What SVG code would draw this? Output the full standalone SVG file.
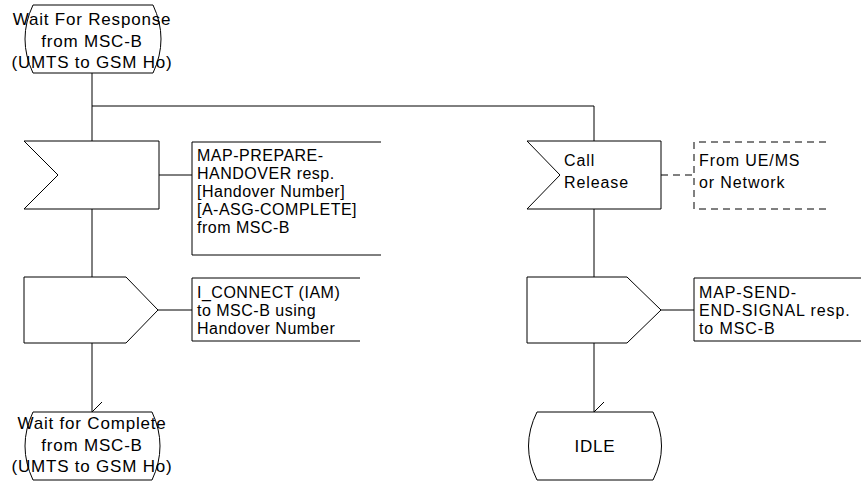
<svg xmlns="http://www.w3.org/2000/svg" width="861" height="483" viewBox="0 0 861 483">
<defs>
<style>
.s{fill:#fff;stroke:#000;stroke-width:1}
.l{fill:none;stroke:#000;stroke-width:1}
.d{fill:none;stroke:#000;stroke-width:1;stroke-dasharray:7,5}
.t{font-family:"Liberation Sans",Arial,sans-serif;font-size:16px;letter-spacing:0.5px;fill:#000}
.r{letter-spacing:0.9px}
.st{font-family:"Liberation Sans",Arial,sans-serif;font-size:17px;letter-spacing:0.8px;fill:#000;text-anchor:middle}
</style>
<marker id="arr" markerWidth="24" markerHeight="14" refX="11" refY="11" orient="auto" markerUnits="userSpaceOnUse" viewBox="0 0 24 14">
<path d="M1,1 L11,11 L21,1" fill="none" stroke="#000" stroke-width="1"/>
</marker>
</defs>
<rect width="861" height="483" fill="#fff"/>
<g id="connectors">
<path class="l" d="M92,73 V141"/>
<path class="l" d="M92,106 H594 V141"/>
<path class="l" d="M159,175 H192"/>
<path class="l" d="M92,209 V277"/>
<path class="l" d="M158,310 H192"/>
<path class="l" d="M92,343 V412" marker-end="url(#arr)"/>
<path class="d" d="M661,175 H694"/>
<path class="l" d="M594,209 V277"/>
<path class="l" d="M661,310 H694"/>
<path class="l" d="M594,343 V412" marker-end="url(#arr)"/>
</g>
<g id="state_wait_response">
<path class="s" d="M33,5 H153 Q169,39 153,73 H33 Q17,39 33,5 Z"/>
<text class="st" x="92" y="25">Wait For Response</text>
<text class="st" x="92" y="47">from MSC-B</text>
<text class="st" x="92" y="68">(UMTS to GSM Ho)</text>
</g>
<g id="input_map_prepare">
<path class="s" d="M24,141 H159 V209 H24 L58,175 Z"/>
</g>
<g id="text_map_prepare">
<path class="l" d="M381,142 H192 V255 H381"/>
<text class="t" x="197" y="161">MAP-PREPARE-</text>
<text class="t" x="197" y="179">HANDOVER resp.</text>
<text class="t" x="197" y="197">[Handover Number]</text>
<text class="t" x="197" y="215">[A-ASG-COMPLETE]</text>
<text class="t" x="197" y="233">from MSC-B</text>
</g>
<g id="output_i_connect">
<path class="s" d="M24,277 H126 L158,310 L126,343 H24 Z"/>
</g>
<g id="text_i_connect">
<path class="l" d="M360,278 H192 V341 H360"/>
<text class="t" x="197" y="298">I_CONNECT (IAM)</text>
<text class="t" x="197" y="316">to MSC-B using</text>
<text class="t" x="197" y="334">Handover Number</text>
</g>
<g id="state_wait_complete">
<path class="s" d="M33,412 H152 Q168,446 152,480 H33 Q17,446 33,412 Z"/>
<text class="st" x="92" y="429">Wait for Complete</text>
<text class="st" x="92" y="451">from MSC-B</text>
<text class="st" x="92" y="472">(UMTS to GSM Ho)</text>
</g>
<g id="input_call_release">
<path class="s" d="M527,141 H661 V209 H527 L560,175 Z"/>
<text class="t r" x="564" y="166">Call</text>
<text class="t r" x="564" y="188">Release</text>
</g>
<g id="text_from_ue">
<path class="d" d="M826,142 H694 V209 H826"/>
<text class="t r" x="699" y="166">From UE/MS</text>
<text class="t r" x="699" y="188">or Network</text>
</g>
<g id="output_map_send">
<path class="s" d="M527,277 H627 L661,310 L627,343 H527 Z"/>
</g>
<g id="text_map_send">
<path class="l" d="M861,278 H694 V341 H861"/>
<text class="t r" x="699" y="298">MAP-SEND-</text>
<text class="t r" x="699" y="316">END-SIGNAL resp.</text>
<text class="t r" x="699" y="334">to MSC-B</text>
</g>
<g id="state_idle">
<path class="s" d="M537,412 H653 Q670,446 653,480 H537 Q520,446 537,412 Z"/>
<text class="st" x="595" y="452">IDLE</text>
</g>
</svg>
